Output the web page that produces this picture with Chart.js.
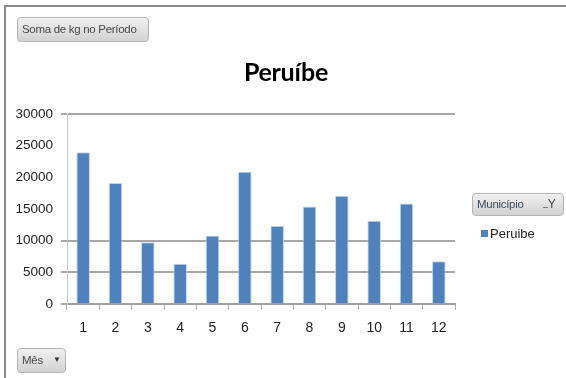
<!DOCTYPE html>
<html>
<head>
<meta charset="utf-8">
<script src="https://cdn.jsdelivr.net/npm/chart.js@4.4.1/dist/chart.umd.min.js"></script>
<style>
  html, body { margin: 0; padding: 0; background: #fff; }
  #wrap { position: relative; width: 566px; height: 378px; overflow: hidden; font-family: "Liberation Sans", Arial, sans-serif; }
  #frame { position: absolute; left: 4px; top: 5px; width: 600px; height: 400px;
           border-top: 2px solid #8a8a8a; border-left: 2px solid #8a8a8a; }
  canvas { position: absolute; left: 0; top: 0; }
  #title { position: absolute; left: 0; width: 572px; top: 56px; text-align: center;
           font-family: Lato, sans-serif; font-weight: bold; font-size: 25px; color: #000; letter-spacing: -0.3px; }
  .btn { position: absolute; box-sizing: border-box; border: 1px solid #b4b4b4; border-radius: 4px;
         background: linear-gradient(#f0f0f0, #d2d2d2); color: #4a4a4a; font-size: 11.5px;
         line-height: 22px; padding-left: 4px; white-space: nowrap; letter-spacing: -0.3px; }
  #legend { position: absolute; left: 481px; top: 226px; font-size: 13px; color: #222; white-space: nowrap; }
  #legend .sw { display: inline-block; width: 7px; height: 7px; margin-right: 2px; vertical-align: 1px; }
</style>
</head>
<body>
<div id="wrap">
  <div id="frame"></div>
  <canvas id="c" width="566" height="378"></canvas>
  <div id="title"></div>
  <div class="btn" style="left:17px;top:17px;width:132px;height:25px;">Soma de kg no Período</div>
  <div class="btn" style="left:17px;top:348px;width:49px;height:25px;">Mês<span style="position:absolute;left:35px;top:0;font-size:8px;color:#333;">&#9660;</span></div>
  <div class="btn" style="left:472px;top:193px;width:92px;height:23px;color:#3e4c60;line-height:21px;">Município<span style="position:absolute;left:70px;top:1px;font-size:12px;color:#444;line-height:18px;"><span style="font-size:9px;vertical-align:-2px;">&#8211;</span>Y</span></div>
  <div id="legend"></div>
</div>
<script>
// Monthly totals (kg) for Peruíbe
const titleText = 'Peruíbe';
const seriesName = 'Peruibe';
const months = ['1', '2', '3', '4', '5', '6', '7', '8', '9', '10', '11', '12'];
const kgValues = [23950, 19100, 9750, 6350, 10800, 20900, 12350, 15400, 17100, 13150, 15850, 6750];
const yTicks = [0, 5000, 10000, 15000, 20000, 25000, 30000];
// grid lines that are drawn across the plot
const drawnGrid = [0, 5000, 10000, 30000];

const barColor = '#4f81bd';

document.getElementById('title').textContent = titleText;
document.getElementById('legend').innerHTML =
  '<span class="sw" style="background:' + barColor + '"></span>' + seriesName;

new Chart(document.getElementById('c'), {
  type: 'bar',
  data: {
    labels: months,
    datasets: [{
      label: seriesName,
      data: kgValues,
      backgroundColor: barColor,
      borderColor: 'rgba(190,208,232,0.9)',
      borderWidth: 1,
      categoryPercentage: 1,
      barPercentage: 0.42
    }]
  },
  options: {
    responsive: false,
    animation: false,
    events: [],
    layout: { padding: { left: 0, right: 111, top: 114, bottom: 34 } },
    plugins: {
      legend: { display: false },
      tooltip: { enabled: false },
      title: { display: false }
    },
    scales: {
      x: {
        grid: {
          offset: true,
          drawOnChartArea: false,
          color: '#b0b0b0',
          tickLength: 6
        },
        border: { color: '#a0a0a0', width: 2 },
        ticks: {
          color: '#222',
          font: { family: 'Liberation Sans', size: 14 },
          padding: 10,
          maxRotation: 0
        },
        afterFit: s => { s.height = 40; }
      },
      y: {
        min: 0,
        max: 30000,
        afterBuildTicks: s => { s.ticks = yTicks.map(v => ({ value: v })); },
        grid: {
          color: ctx => drawnGrid.includes(ctx.tick && ctx.tick.value) ? '#a8a8a8' : 'rgba(0,0,0,0)',
          lineWidth: 2,
          tickLength: 6
        },
        border: { color: '#c8c8c8', width: 1 },
        ticks: {
          color: '#222',
          font: { family: 'Liberation Sans', size: 13.5 },
          padding: 8,
          callback: v => String(v)
        },
        afterFit: s => { s.width = 67; }
      }
    }
  }
});
</script>
</body>
</html>
